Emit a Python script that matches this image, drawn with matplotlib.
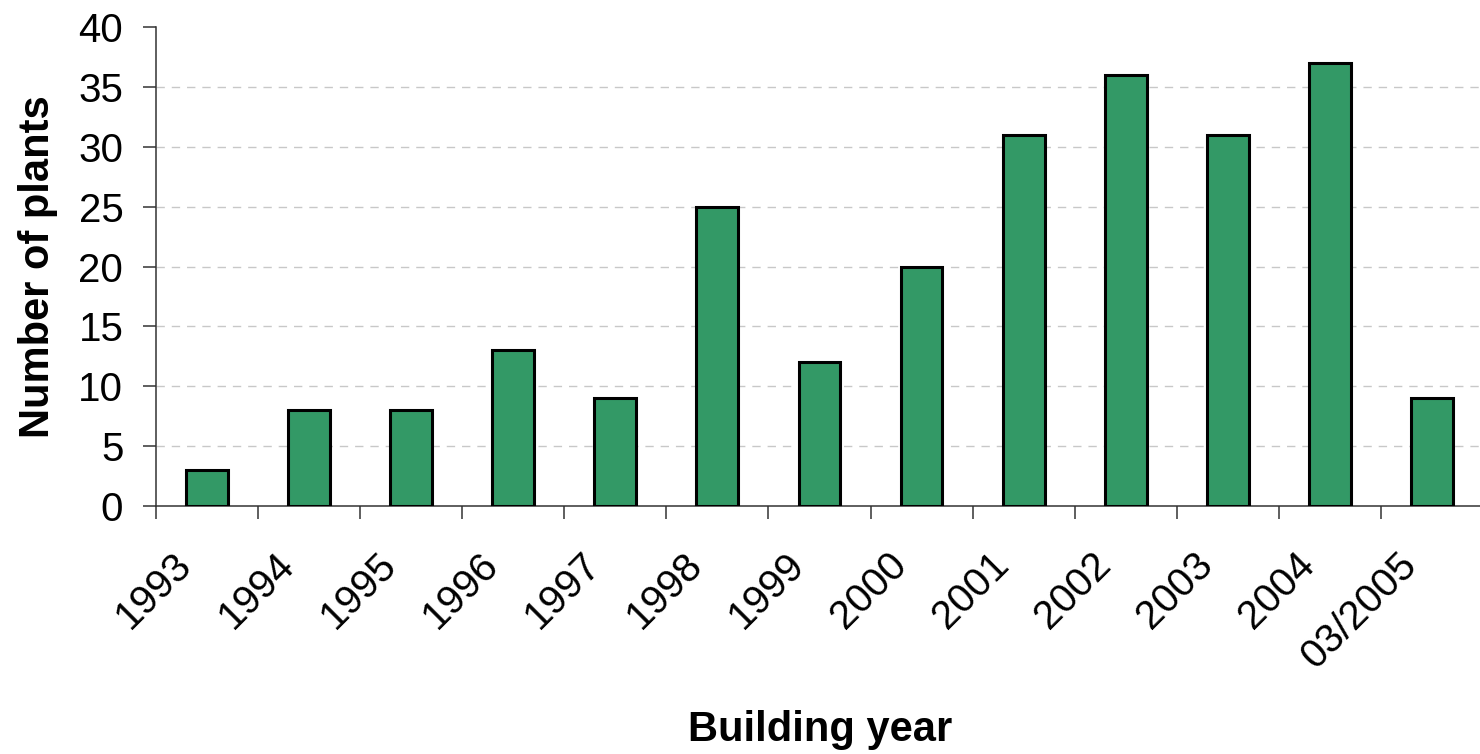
import matplotlib
matplotlib.use('Agg')
import matplotlib.pyplot as plt
import matplotlib.transforms as mtransforms
import numpy as np

plt.rcParams['font.family'] = ['Liberation Sans', 'DejaVu Sans']

# Anlagen pro Baujahr
years = ['1993', '1994', '1995', '1996', '1997', '1998', '1999',
         '2000', '2001', '2002', '2003', '2004', '03/2005']
plants = [3, 8, 8, 13, 9, 25, 12, 20, 31, 36, 31, 37, 9]

fig = plt.figure(figsize=(14.8, 7.54), dpi=100)
ax = fig.add_axes([0.1054, 0.329, 0.8966, 0.635])

x = np.arange(len(years))
ax.bar(x, plants, width=0.41, color='#339966', edgecolor='black',
       linewidth=2.2, zorder=3)

ax.set_xlim(-0.5, len(years) - 0.5)
ax.set_ylim(0, 40)
ax.set_yticks(np.arange(0, 41, 5))
ax.tick_params(axis='y', labelsize=29, length=9.5, width=1.1,
               color='#333333', pad=14)

# Ticks zwischen den Kategorien, Beschriftung in der Mitte
ax.set_xticks(np.arange(-0.5, len(years), 1.0))
ax.set_xticklabels([])
ax.tick_params(axis='x', which='major', length=9.5, width=1.1, color='#333333')
ax.set_xticks(x, minor=True)
ax.set_xticklabels(years, minor=True, rotation=45, ha='right', va='center',
                   rotation_mode='anchor', fontsize=29)
ax.tick_params(axis='x', which='minor', length=0, pad=38)

# Beschriftungen etwas nach links schieben (wie in Excel)
shift = mtransforms.ScaledTranslation(-21 / 100, 0, fig.dpi_scale_trans)
for lab in ax.xaxis.get_minorticklabels():
    lab.set_transform(lab.get_transform() + shift)

for yv in range(5, 40, 5):
    ax.axhline(yv, color='#c8c8c8', linestyle=(0, (6, 5)), linewidth=1.0,
               zorder=1)

for s in ['top', 'right']:
    ax.spines[s].set_visible(False)
ax.spines['left'].set_color('#333333')
ax.spines['bottom'].set_color('#333333')
ax.spines['left'].set_linewidth(1.1)
ax.spines['bottom'].set_linewidth(1.1)

ax.set_ylabel('Number of plants', fontsize=30, fontweight='bold', labelpad=15)
fig.text(0.554, 0.017, 'Building year', fontsize=30, fontweight='bold',
         ha='center', va='baseline')

fig.savefig('out.png', dpi=100)
